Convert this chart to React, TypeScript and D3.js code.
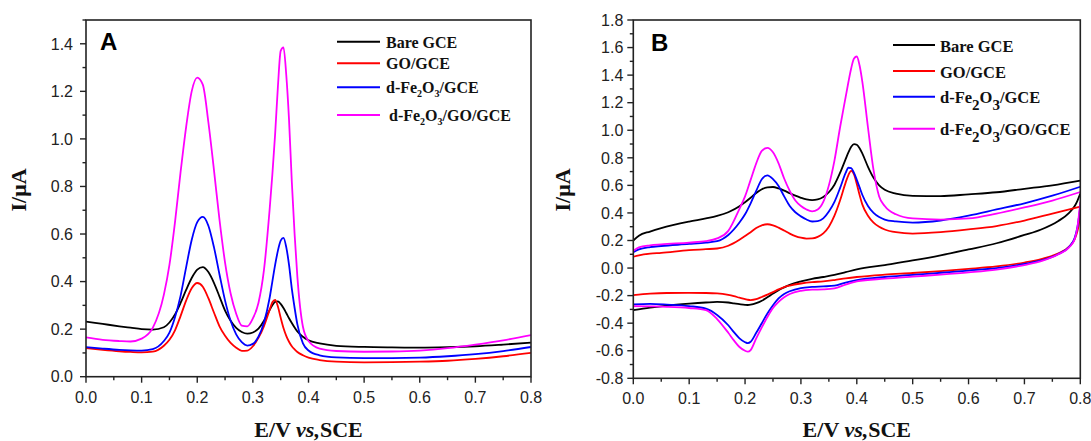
import React from 'react';
import * as d3 from 'd3';

// ---------- Panel A: differential pulse voltammograms ----------
const potentialA = [
  0, 0.03, 0.06, 0.08, 0.1, 0.12, 0.14, 0.15, 0.16, 0.17,
  0.18, 0.19, 0.2, 0.21, 0.22, 0.23, 0.24, 0.25, 0.26, 0.27,
  0.28, 0.29, 0.3, 0.31, 0.32, 0.33, 0.335, 0.34, 0.345, 0.35,
  0.355, 0.36, 0.365, 0.37, 0.375, 0.38, 0.39, 0.4, 0.42, 0.45,
  0.5, 0.55, 0.6, 0.65, 0.7, 0.75, 0.8,
];
const bareA = [
  0.232, 0.222, 0.212, 0.206, 0.2, 0.198, 0.208, 0.228, 0.262, 0.31,
  0.365, 0.415, 0.45, 0.461, 0.44, 0.395, 0.337, 0.278, 0.235, 0.205,
  0.188, 0.181, 0.186, 0.202, 0.235, 0.28, 0.3, 0.315, 0.317, 0.306,
  0.289, 0.268, 0.246, 0.226, 0.207, 0.19, 0.168, 0.153, 0.14, 0.13,
  0.125, 0.123, 0.122, 0.124, 0.128, 0.135, 0.143,
];
const goA = [
  0.12, 0.113, 0.107, 0.104, 0.102, 0.105, 0.13, 0.155, 0.195, 0.255,
  0.32, 0.372, 0.394, 0.378, 0.33, 0.27, 0.212, 0.172, 0.142, 0.122,
  0.109, 0.11, 0.128, 0.163, 0.213, 0.28, 0.313, 0.323, 0.295, 0.248,
  0.205, 0.172, 0.147, 0.128, 0.115, 0.104, 0.09, 0.08, 0.07, 0.063,
  0.06, 0.061, 0.063, 0.067, 0.075, 0.086, 0.1,
];
const fe2o3A = [
  0.124, 0.118, 0.113, 0.111, 0.11, 0.116, 0.15, 0.185, 0.25, 0.34,
  0.46, 0.575, 0.65, 0.672, 0.635, 0.545, 0.43, 0.32, 0.235, 0.178,
  0.145, 0.131, 0.138, 0.168, 0.228, 0.33, 0.4, 0.47, 0.53, 0.572,
  0.584, 0.545, 0.47, 0.37, 0.29, 0.22, 0.14, 0.11, 0.09, 0.081,
  0.078, 0.078, 0.08, 0.086, 0.095, 0.108, 0.125,
];
const fe2o3GoA = [
  0.165, 0.155, 0.15, 0.148, 0.16, 0.205, 0.345, 0.47, 0.65, 0.86,
  1.05, 1.2, 1.258, 1.228, 1.07, 0.87, 0.66, 0.48, 0.35, 0.265,
  0.215, 0.212, 0.245, 0.31, 0.45, 0.7, 0.85, 1.02, 1.22, 1.37,
  1.385, 1.27, 1.08, 0.82, 0.6, 0.42, 0.21, 0.15, 0.118, 0.108,
  0.105, 0.106, 0.11, 0.12, 0.135, 0.153, 0.175,
];

// ---------- Panel B: cyclic voltammograms (anodic sweep, then cathodic sweep) ----------
const potentialFwdB = [
  0, 0.01, 0.03, 0.05, 0.1, 0.13, 0.15, 0.17, 0.19, 0.2,
  0.21, 0.22, 0.23, 0.24, 0.25, 0.26, 0.27, 0.28, 0.29, 0.3,
  0.31, 0.32, 0.33, 0.34, 0.35, 0.36, 0.37, 0.38, 0.385, 0.39,
  0.395, 0.4, 0.405, 0.41, 0.42, 0.43, 0.44, 0.45, 0.47, 0.5,
  0.55, 0.6, 0.65, 0.7, 0.75, 0.8,
];
const bareFwdB = [
  0.2, 0.235, 0.265, 0.29, 0.337, 0.36, 0.378, 0.405, 0.448, 0.478,
  0.51, 0.545, 0.572, 0.586, 0.588, 0.578, 0.562, 0.543, 0.525, 0.51,
  0.498, 0.493, 0.498, 0.516, 0.55, 0.605, 0.69, 0.79, 0.84, 0.88,
  0.9, 0.895, 0.87, 0.83, 0.735, 0.655, 0.6, 0.568, 0.54, 0.524,
  0.522, 0.535, 0.55, 0.575, 0.6, 0.634,
];
const goFwdB = [
  0.082, 0.092, 0.104, 0.11, 0.13, 0.137, 0.142, 0.162, 0.205, 0.232,
  0.26, 0.29, 0.31, 0.318, 0.31, 0.293, 0.272, 0.25, 0.232, 0.22,
  0.214, 0.215, 0.226, 0.252, 0.3, 0.38, 0.49, 0.62, 0.675, 0.705,
  0.68, 0.61, 0.53, 0.46, 0.38, 0.33, 0.3, 0.28, 0.26, 0.25,
  0.26, 0.28, 0.305, 0.345, 0.395, 0.445,
];
const fe2o3FwdB = [
  0.115, 0.135, 0.152, 0.16, 0.175, 0.185, 0.195, 0.24, 0.33, 0.39,
  0.47, 0.56, 0.645, 0.672, 0.645, 0.595, 0.52, 0.45, 0.405, 0.375,
  0.352, 0.338, 0.34, 0.36, 0.41, 0.48, 0.58, 0.69, 0.728, 0.725,
  0.69, 0.64, 0.585, 0.53, 0.45, 0.4, 0.37, 0.352, 0.338, 0.33,
  0.345, 0.38, 0.425, 0.47, 0.525, 0.59,
];
const fe2o3GoFwdB = [
  0.125, 0.15, 0.165, 0.172, 0.185, 0.195, 0.215, 0.27, 0.43, 0.52,
  0.64, 0.76, 0.85, 0.872, 0.84, 0.76, 0.65, 0.56, 0.49, 0.45,
  0.425, 0.412, 0.425, 0.48, 0.6, 0.78, 1.02, 1.24, 1.35, 1.45,
  1.52, 1.535, 1.47, 1.35, 1.02, 0.71, 0.52, 0.45, 0.39, 0.36,
  0.352, 0.36, 0.395, 0.44, 0.49, 0.552,
];

const potentialRevB = [
  0, 0.03, 0.06, 0.1, 0.13, 0.15, 0.17, 0.18, 0.19, 0.2,
  0.205, 0.21, 0.22, 0.23, 0.24, 0.25, 0.26, 0.27, 0.28, 0.3,
  0.32, 0.34, 0.36, 0.38, 0.4, 0.45, 0.5, 0.55, 0.6, 0.65,
  0.7, 0.73, 0.76, 0.78, 0.79, 0.795, 0.8,
];
const bareRevB = [
  -0.305, -0.287, -0.272, -0.258, -0.25, -0.246, -0.25, -0.256, -0.262, -0.267,
  -0.268, -0.266, -0.255, -0.237, -0.212, -0.185, -0.16, -0.14, -0.122, -0.097,
  -0.078, -0.065, -0.05, -0.03, -0.01, 0.022, 0.055, 0.092, 0.135, 0.18,
  0.24, 0.28, 0.34, 0.4, 0.45, 0.49, 0.54,
];
const goRevB = [
  -0.196, -0.186, -0.181, -0.18, -0.181, -0.184, -0.195, -0.204, -0.215, -0.225,
  -0.23, -0.232, -0.226, -0.21, -0.193, -0.175, -0.155, -0.138, -0.127, -0.112,
  -0.102, -0.097, -0.087, -0.075, -0.065, -0.048, -0.036, -0.022, -0.006, 0.012,
  0.04, 0.065, 0.105, 0.155, 0.21, 0.27, 0.38,
];
const fe2o3RevB = [
  -0.264, -0.26, -0.265, -0.276, -0.295, -0.34, -0.415, -0.465, -0.51, -0.538,
  -0.545, -0.535, -0.47, -0.4, -0.33, -0.27, -0.22, -0.188, -0.168, -0.145,
  -0.137, -0.133, -0.128, -0.105, -0.088, -0.065, -0.05, -0.034, -0.018, 0.0,
  0.03, 0.055, 0.1, 0.155, 0.22, 0.3, 0.45,
];
const fe2o3GoRevB = [
  -0.276, -0.278, -0.281, -0.29, -0.305, -0.37, -0.47, -0.525, -0.573, -0.6,
  -0.607, -0.595, -0.51, -0.43, -0.355, -0.29, -0.245, -0.212, -0.188, -0.165,
  -0.157, -0.155, -0.148, -0.12, -0.097, -0.077, -0.062, -0.048, -0.032, -0.012,
  0.022, 0.05, 0.098, 0.15, 0.21, 0.3, 0.48,
];

// ---------- shared labels and ticks ----------
const electrodeLabels = ['Bare GCE', 'GO/GCE', 'd-Fe_2O_3/GCE', 'd-Fe_2O_3/GO/GCE'];
const electrodeColors = ['#000000', '#ff0000', '#0000ff', '#ff00ff'];
const potentialTicks = [0, 0.1, 0.2, 0.3, 0.4, 0.5, 0.6, 0.7, 0.8];
const currentTicksA = [0, 0.2, 0.4, 0.6, 0.8, 1.0, 1.2, 1.4];
const currentTicksB = [-0.8, -0.6, -0.4, -0.2, 0, 0.2, 0.4, 0.6, 0.8, 1.0, 1.2, 1.4, 1.6, 1.8];

const SANS = "'Liberation Sans', Arial, Helvetica, sans-serif";
const SERIF = "'Liberation Serif', 'Times New Roman', Times, serif";
const AXIS_COLOR = '#222';

type Part = { t: string; sub: boolean };
function splitLabel(label: string): Part[] {
  const out: Part[] = [];
  label.split(/(_\d)/).forEach((s) => {
    if (!s) return;
    if (s.startsWith('_')) out.push({ t: s.slice(1), sub: true });
    else out.push({ t: s, sub: false });
  });
  return out;
}

function LegendText({ x, y, label, size, subSize, subShift }: {
  x: number; y: number; label: string; size: number; subSize: number; subShift: number;
}) {
  const parts = splitLabel(label);
  let shifted = false;
  return (
    <text x={x} y={y} fontFamily={SERIF} fontWeight="bold" fontSize={size} fill="#111" xmlSpace="preserve">
      {parts.map((p, k) => {
        let dy = 0;
        if (p.sub && !shifted) { dy = subShift; shifted = true; }
        else if (!p.sub && shifted) { dy = -subShift; shifted = false; }
        return (
          <tspan key={k} dy={dy} fontSize={p.sub ? subSize : size}>{p.t}</tspan>
        );
      })}
    </text>
  );
}

type Curve = { x: number[]; y: number[] };

type PanelProps = {
  id: string;
  letter: string;
  left: number; right: number; top: number; bottom: number;
  yDomain: [number, number];
  yTicks: number[];
  yLabelGap: number;
  curves: Curve[][]; // one list of sweeps per electrode
  legend: {
    lineX1: number; lineX2: number; textX: number[]; rowY: number[]; textDy: number;
    size: number; subSize: number; subShift: number;
  };
  letterPos: [number, number];
  yTitleX: number;
};

function Panel(p: PanelProps) {
  const x = d3.scaleLinear().domain([0, 0.8]).range([p.left, p.right]);
  const y = d3.scaleLinear().domain(p.yDomain).range([p.bottom, p.top]);
  const line = d3.line<[number, number]>()
    .x((d) => x(d[0]))
    .y((d) => y(d[1]))
    .curve(d3.curveMonotoneX);

  const xMinor = potentialTicks.slice(0, -1).map((v, i) => (v + potentialTicks[i + 1]) / 2);
  const yMinor = p.yTicks.map((v) => v + 0.1).filter((v) => v <= p.yDomain[1] + 1e-9);

  const clipId = `clip-${p.id}`;
  return (
    <g>
      <defs>
        <clipPath id={clipId}>
          <rect x={p.left} y={p.top} width={p.right - p.left} height={p.bottom - p.top} />
        </clipPath>
      </defs>

      {/* data */}
      <g clipPath={`url(#${clipId})`}>
        {p.curves.map((sweeps, si) =>
          sweeps.map((c, ci) => (
            <path
              key={`${si}-${ci}`}
              d={line(c.x.map((v, i) => [v, c.y[i]] as [number, number])) || ''}
              fill="none"
              stroke={electrodeColors[si]}
              strokeWidth={1.8}
              strokeLinejoin="round"
            />
          ))
        )}
      </g>

      {/* frame */}
      <rect x={p.left} y={p.top} width={p.right - p.left} height={p.bottom - p.top}
        fill="none" stroke={AXIS_COLOR} strokeWidth={1.6} />

      {/* x ticks */}
      {potentialTicks.map((v) => (
        <g key={`xt${v}`}>
          <line x1={x(v)} x2={x(v)} y1={p.bottom} y2={p.bottom + 6} stroke={AXIS_COLOR} strokeWidth={1.4} />
          <text x={x(v)} y={p.bottom + 26} textAnchor="middle" fontFamily={SANS} fontSize={16} fill="#222">
            {v.toFixed(1)}
          </text>
        </g>
      ))}
      {xMinor.map((v) => (
        <line key={`xm${v}`} x1={x(v)} x2={x(v)} y1={p.bottom} y2={p.bottom + 3.5} stroke={AXIS_COLOR} strokeWidth={1.4} />
      ))}

      {/* y ticks */}
      {p.yTicks.map((v) => (
        <g key={`yt${v}`}>
          <line x1={p.left - 6} x2={p.left} y1={y(v)} y2={y(v)} stroke={AXIS_COLOR} strokeWidth={1.4} />
          <text x={p.left - p.yLabelGap} y={y(v)} dy="0.36em" textAnchor="end" fontFamily={SANS} fontSize={16} fill="#222">
            {v.toFixed(1)}
          </text>
        </g>
      ))}
      {yMinor.map((v) => (
        <line key={`ym${v}`} x1={p.left - 3.5} x2={p.left} y1={y(v)} y2={y(v)} stroke={AXIS_COLOR} strokeWidth={1.4} />
      ))}

      {/* axis titles */}
      <text x={(p.left + p.right) / 2} y={437} textAnchor="middle" fontFamily={SERIF} fontWeight="bold" fontSize={22} fill="#111" xmlSpace="preserve">
        E/V <tspan fontStyle="italic">vs,</tspan>SCE
      </text>
      <text transform={`translate(${p.yTitleX},190) rotate(-90)`} textAnchor="middle" fontFamily={SERIF} fontWeight="bold" fontSize={22} fill="#111">
        I/μA
      </text>

      {/* panel letter */}
      <text x={p.letterPos[0]} y={p.letterPos[1]} fontFamily={SANS} fontWeight="bold" fontSize={24} fill="#000">
        {p.letter}
      </text>

      {/* legend */}
      {electrodeLabels.map((lab, i) => (
        <g key={`lg${i}`}>
          <line x1={p.legend.lineX1} x2={p.legend.lineX2} y1={p.legend.rowY[i]} y2={p.legend.rowY[i]}
            stroke={electrodeColors[i]} strokeWidth={2} />
          <LegendText x={p.legend.textX[i]} y={p.legend.rowY[i] + p.legend.textDy} label={lab}
            size={p.legend.size} subSize={p.legend.subSize} subShift={p.legend.subShift} />
        </g>
      ))}
    </g>
  );
}

export default function App() {
  const curvesA: Curve[][] = [bareA, goA, fe2o3A, fe2o3GoA].map((ys) => [{ x: potentialA, y: ys }]);
  const curvesB: Curve[][] = [
    [bareFwdB, bareRevB],
    [goFwdB, goRevB],
    [fe2o3FwdB, fe2o3RevB],
    [fe2o3GoFwdB, fe2o3GoRevB],
  ].map(([f, r]) => [
    { x: potentialFwdB, y: f },
    { x: potentialRevB, y: r },
  ]);

  return (
    <svg width={1091} height={441} viewBox="0 0 1091 441"
      style={{ position: 'absolute', left: 0, top: 0, background: '#fff' }}>
      <rect x={0} y={0} width={1091} height={441} fill="#fff" />
      <Panel
        id="a" letter="A"
        left={86} right={531} top={20} bottom={376.7}
        yDomain={[0, 1.5]} yTicks={currentTicksA} yLabelGap={13}
        curves={curvesA}
        legend={{ lineX1: 337, lineX2: 380, textX: [386, 386, 386, 389], rowY: [41.7, 63.3, 87.3, 115], textDy: 5.8,
          size: 16, subSize: 10, subShift: 4 }}
        letterPos={[100, 50]}
        yTitleX={26}
      />
      <Panel
        id="b" letter="B"
        left={633.3} right={1080.3} top={20} bottom={378.3}
        yDomain={[-0.8, 1.8]} yTicks={currentTicksB} yLabelGap={10}
        curves={curvesB}
        legend={{ lineX1: 893, lineX2: 935, textX: [940, 940, 940, 940], rowY: [45, 71, 96.7, 128.7], textDy: 6.5,
          size: 16.5, subSize: 15, subShift: 7 }}
        letterPos={[651, 51]}
        yTitleX={570}
      />
    </svg>
  );
}
